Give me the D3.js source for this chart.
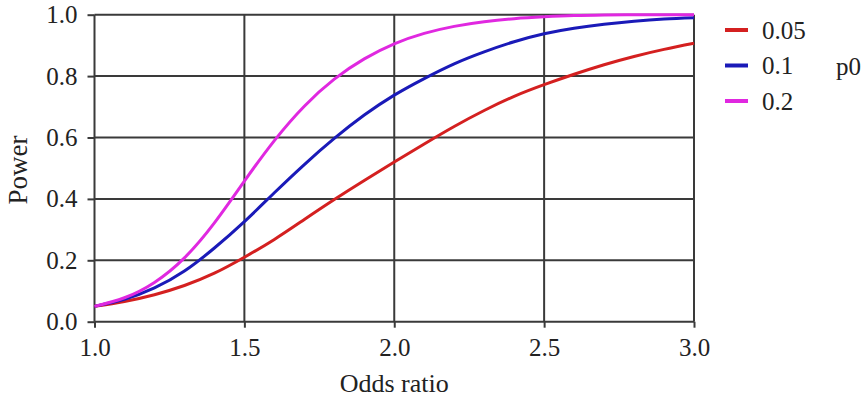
<!DOCTYPE html>
<html>
<head>
<meta charset="utf-8">
<script src="https://cdn.jsdelivr.net/npm/d3@7"></script>
<style>
  html, body { margin: 0; padding: 0; background: #fff; }
  svg { display: block; }
  svg text { font-family: "Liberation Serif", "Times New Roman", serif !important; fill: #222; }
</style>
</head>
<body>
<svg id="chart" width="867" height="408"></svg>
<script>
const oddsRatio = [1.0,1.1,1.2,1.3,1.4,1.5,1.6,1.7,1.8,1.9,2.0,2.1,2.2,2.3,2.4,2.5,2.6,2.7,2.8,2.9,3.0];
const power005 = [0.05,0.066,0.088,0.118,0.158,0.21,0.268,0.333,0.398,0.46,0.52,0.579,0.636,0.688,0.734,0.772,0.806,0.837,0.864,0.887,0.907];
const power01  = [0.05,0.073,0.11,0.165,0.24,0.326,0.42,0.512,0.597,0.673,0.738,0.792,0.84,0.879,0.912,0.938,0.956,0.969,0.979,0.986,0.99];
const power02  = [0.05,0.078,0.128,0.208,0.322,0.458,0.59,0.702,0.79,0.856,0.905,0.939,0.962,0.977,0.987,0.993,0.997,0.999,1.0,1.0,1.0];
const seriesNames = ["0.05","0.1","0.2"];
const seriesColors = ["#d42020","#1a1ab8","#e028e0"];
const xTicks = [1.0,1.5,2.0,2.5,3.0];
const yTicks = [0.0,0.2,0.4,0.6,0.8,1.0];
const xTitle = "Odds ratio";
const yTitle = "Power";
const legendTitle = "p0";

const series = [power005, power01, power02].map((vals, i) => ({
  name: seriesNames[i], color: seriesColors[i],
  points: oddsRatio.map((x, j) => ({x, y: vals[j]}))
}));

const svg = d3.select("#chart");
const m = {left: 94.5, right: 694, top: 14.7, bottom: 321.7};
const x = d3.scaleLinear().domain([1, 3]).range([m.left, m.right]);
const y = d3.scaleLinear().domain([0, 1]).range([m.bottom, m.top]);

const gridColor = "#3a3a3a";
const serif = "'Liberation Serif', 'Times New Roman', serif";

// grid
svg.append("g").selectAll("line").data(yTicks).join("line")
  .attr("x1", m.left).attr("x2", m.right)
  .attr("y1", d => y(d)).attr("y2", d => y(d))
  .attr("stroke", gridColor).attr("stroke-width", 2);
svg.append("g").selectAll("line").data(xTicks).join("line")
  .attr("x1", d => x(d)).attr("x2", d => x(d))
  .attr("y1", m.top).attr("y2", m.bottom)
  .attr("stroke", gridColor).attr("stroke-width", 2);

// axes
const xAxis = svg.append("g").attr("transform", `translate(0,${m.bottom})`)
  .call(d3.axisBottom(x).tickValues(xTicks).tickFormat(d3.format(".1f")).tickSize(6).tickPadding(11));
const yAxis = svg.append("g").attr("transform", `translate(${m.left},0)`)
  .call(d3.axisLeft(y).tickValues(yTicks).tickFormat(d3.format(".1f")).tickSize(7).tickPadding(10));
[xAxis, yAxis].forEach(a => {
  a.attr("font-family", serif).attr("font-size", 25);
  a.select(".domain").remove();
  a.selectAll(".tick line").attr("stroke", gridColor).attr("stroke-width", 2);
  a.selectAll(".tick text").attr("fill", "#222");
});

// lines
const line = d3.line().x(d => x(d.x)).y(d => y(d.y)).curve(d3.curveNatural);
svg.append("g").selectAll("path").data(series).join("path")
  .attr("d", d => line(d.points))
  .attr("fill", "none")
  .attr("stroke", d => d.color)
  .attr("stroke-width", 3);

// titles
svg.append("text").attr("x", x(2)).attr("y", 392)
  .attr("text-anchor", "middle").attr("font-size", 26).text(xTitle);
svg.append("text").attr("transform", `translate(27,${170}) rotate(-90)`)
  .attr("text-anchor", "middle").attr("font-size", 27).text(yTitle);

// legend
const lg = svg.append("g");
series.forEach((s, i) => {
  const yy = 30 + i * 35.5;
  lg.append("line").attr("x1", 725).attr("x2", 748).attr("y1", yy).attr("y2", yy)
    .attr("stroke", s.color).attr("stroke-width", 4);
  lg.append("text").attr("x", 762).attr("y", yy + 8.5).attr("font-size", 25).text(s.name);
});
lg.append("text").attr("x", 836).attr("y", 75).attr("font-size", 25).text(legendTitle);
</script>
</body>
</html>
